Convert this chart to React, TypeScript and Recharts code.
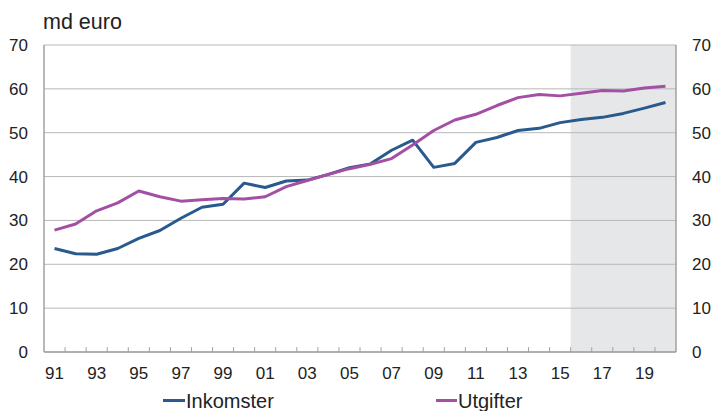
import React from 'react'
import {
  LineChart,
  Line,
  XAxis,
  YAxis,
  CartesianGrid,
  ReferenceArea,
  ReferenceLine,
} from 'recharts'

// Page has default 8px body margin, drop it so the chart sits at 0,0
if (typeof document !== 'undefined') document.body.style.margin = '0'

const years = [
  '91', '92', '93', '94', '95', '96', '97', '98', '99', '00',
  '01', '02', '03', '04', '05', '06', '07', '08', '09', '10',
  '11', '12', '13', '14', '15', '16', '17', '18', '19', '20',
]

// md euro
const inkomster = [
  23.6, 22.4, 22.3, 23.6, 25.9, 27.7, 30.5, 33.0, 33.7, 38.5,
  37.5, 39.0, 39.2, 40.5, 42.0, 42.9, 46.0, 48.3, 42.1, 43.0,
  47.8, 48.9, 50.5, 51.0, 52.3, 53.0, 53.5, 54.4, 55.6, 56.9,
]

const utgifter = [
  27.8, 29.2, 32.2, 34.0, 36.7, 35.4, 34.4, 34.7, 35.0, 34.9,
  35.4, 37.7, 39.1, 40.5, 41.8, 42.8, 44.1, 47.2, 50.5, 52.9,
  54.2, 56.2, 58.0, 58.7, 58.4, 59.0, 59.6, 59.5, 60.2, 60.6,
]

const yTicks = [0, 10, 20, 30, 40, 50, 60, 70]

// projection period (shaded)
const shadeFrom = '16'
const shadeTo = '20'

const BLUE = '#285a8e'
const PURPLE = '#a34fa4'
const FONT = '"Liberation Sans", Arial, sans-serif'

const WIDTH = 713
const HEIGHT = 411
const LEFT_W = 44
const RIGHT_W = 37
const TICK_LEN = 1.1 // in md euro, about 5px

const data = years.map((year, i) => ({
  year,
  inkomster: inkomster[i],
  utgifter: utgifter[i],
}))

// label every other year
const YearTick = ({ x, y, payload, index }: any) => {
  const i = index ?? payload?.index ?? 0
  if (i % 2 !== 0) return <g />
  return (
    <text x={x} y={y + 27} textAnchor="middle" fontSize={17} fill="#222" fontFamily={FONT}>
      {payload.value}
    </text>
  )
}

export default function App() {
  return (
    <div style={{ position: 'relative', width: WIDTH, height: HEIGHT, background: '#fff' }}>
      <LineChart
        width={WIDTH}
        height={HEIGHT}
        data={data}
        margin={{ top: 45, right: 0, left: 0, bottom: 0 }}
        style={{ fontFamily: FONT }}
      >
        <ReferenceArea
          yAxisId="left"
          x1={shadeFrom}
          x2={shadeTo}
          y1={0}
          y2={70}
          fill="#e6e7e9"
          fillOpacity={1}
          stroke="none"
          zIndex={-150}
        />
        <CartesianGrid yAxisId="left" vertical={false} stroke="#b8b8b8" strokeWidth={1} />
        <XAxis
          dataKey="year"
          scale="band"
          interval={0}
          height={59}
          tickLine={false}
          tickSize={0}
          tickMargin={0}
          axisLine={{ stroke: '#a0a0a0', strokeWidth: 1.5 }}
          tick={<YearTick />}
        />
        <YAxis
          yAxisId="left"
          width={LEFT_W}
          domain={[0, 70]}
          ticks={yTicks}
          tickLine={false}
          tickMargin={10}
          axisLine={{ stroke: '#a0a0a0', strokeWidth: 1.5 }}
          tick={{ fontSize: 17, fill: '#222', fontFamily: FONT }}
        />
        <YAxis
          yAxisId="right"
          orientation="right"
          width={RIGHT_W}
          domain={[0, 70]}
          ticks={yTicks}
          tickLine={false}
          tickMargin={10}
          axisLine={{ stroke: '#a0a0a0', strokeWidth: 1.5 }}
          tick={{ fontSize: 17, fill: '#222', fontFamily: FONT }}
        />
        {/* small inward ticks on the borders between years */}
        {years.slice(1).map((year) => (
          <ReferenceLine
            key={year}
            yAxisId="left"
            position="start"
            segment={[{ x: year, y: 0 }, { x: year, y: TICK_LEN }]}
            stroke="#a0a0a0"
            strokeWidth={1}
            ifOverflow="visible"
          />
        ))}
        <Line
          yAxisId="left"
          type="linear"
          dataKey="inkomster"
          name="Inkomster"
          stroke={BLUE}
          strokeWidth={3}
          dot={false}
          strokeLinejoin="round"
          isAnimationActive={false}
        />
        <Line
          yAxisId="right"
          type="linear"
          dataKey="utgifter"
          name="Utgifter"
          stroke={PURPLE}
          strokeWidth={3}
          dot={false}
          strokeLinejoin="round"
          isAnimationActive={false}
        />
      </LineChart>

      {/* unit label and legend */}
      <svg
        width={WIDTH}
        height={HEIGHT}
        style={{ position: 'absolute', left: 0, top: 0, pointerEvents: 'none' }}
        fontFamily={FONT}
      >
        <text x={43} y={29} fontSize={21.5} fill="#222">md euro</text>
        <line x1={163} x2={185} y1={400.5} y2={400.5} stroke={BLUE} strokeWidth={3} />
        <text x={186} y={408} fontSize={20} fill="#222">Inkomster</text>
        <line x1={436} x2={457} y1={400.5} y2={400.5} stroke={PURPLE} strokeWidth={3} />
        <text x={458} y={408} fontSize={20} fill="#222">Utgifter</text>
      </svg>
    </div>
  )
}
